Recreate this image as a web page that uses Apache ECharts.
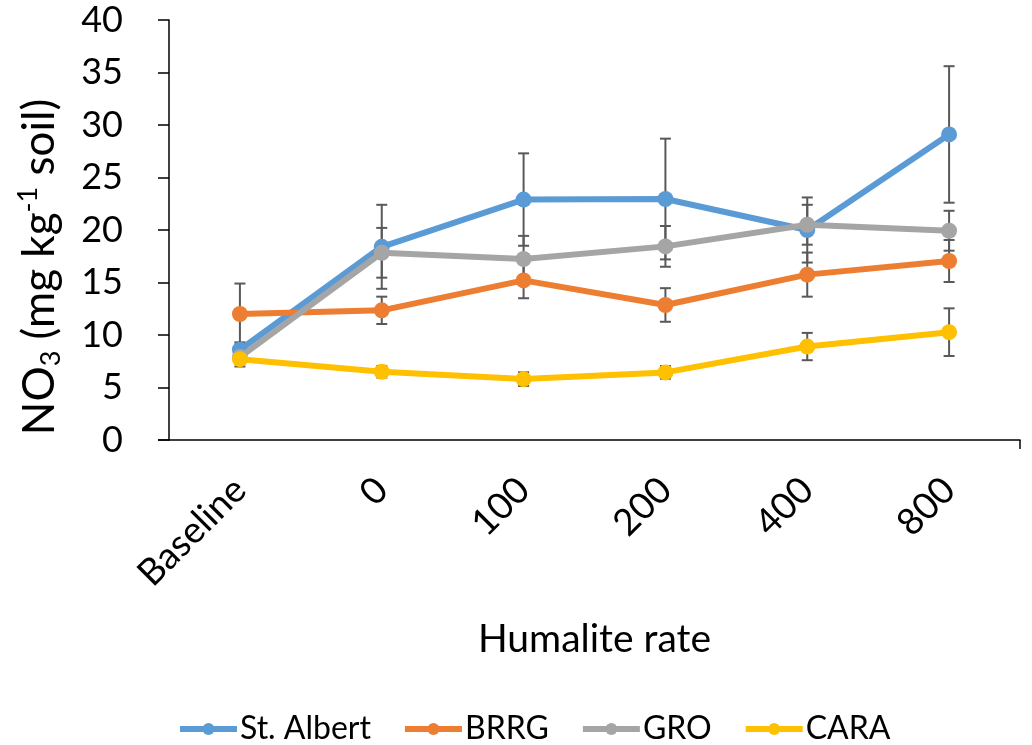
<!DOCTYPE html>
<html>
<head>
<meta charset="utf-8">
<script src="https://cdn.jsdelivr.net/npm/echarts@6/dist/echarts.min.js"></script>
<style>html,body{margin:0;padding:0;background:#fff;}#c{width:1032px;height:745px;}</style>
</head>
<body>
<div id="c"></div>
<script>
const categories = ['Baseline', '0', '100', '200', '400', '800'];
const seriesNames = ['St. Albert', 'BRRG', 'GRO', 'CARA'];
const stAlbert = [8.6, 18.4, 22.9, 22.95, 20.0, 29.1];
const stAlbertErr = [0.7, 4.0, 4.4, 5.75, 3.1, 6.5];
const brrg = [12.0, 12.35, 15.2, 12.86, 15.75, 17.05];
const brrgErr = [2.9, 1.3, 1.7, 1.6, 2.1, 2.0];
const gro = [7.9, 17.83, 17.24, 18.44, 20.5, 19.93];
const groErr = [0.6, 2.37, 2.2, 1.94, 1.9, 1.9];
const cara = [7.7, 6.5, 5.8, 6.44, 8.9, 10.27];
const caraErr = [0.7, 0.55, 0.65, 0.6, 1.3, 2.27];
const yTicks = [0, 5, 10, 15, 20, 25, 30, 35, 40];

const colors = ['#5B9BD5', '#ED7D31', '#A5A5A5', '#FFC000'];
const means = [stAlbert, brrg, gro, cara];
const errs = [stAlbertErr, brrgErr, groErr, caraErr];
const FONT = 'Lato';

const chart = echarts.init(document.getElementById('c'), null, {renderer: 'canvas'});

const series = [];
means.forEach((m, s) => {
  series.push({
    name: seriesNames[s] + ' err',
    type: 'custom',
    z: 1,
    silent: true,
    data: m.map((v, i) => [i, v, errs[s][i]]),
    renderItem: function (params, api) {
      const i = api.value(0), v = api.value(1), e = api.value(2);
      const top = api.coord([i, v + e]);
      const bot = api.coord([i, v - e]);
      const w = 5.5;
      const st = {stroke: '#595959', lineWidth: 2};
      return {
        type: 'group',
        children: [
          {type: 'line', shape: {x1: top[0], y1: top[1], x2: bot[0], y2: bot[1]}, style: st},
          {type: 'line', shape: {x1: top[0] - w, y1: top[1], x2: top[0] + w, y2: top[1]}, style: st},
          {type: 'line', shape: {x1: bot[0] - w, y1: bot[1], x2: bot[0] + w, y2: bot[1]}, style: st}
        ]
      };
    }
  });
});
means.forEach((m, s) => {
  series.push({
    name: seriesNames[s],
    type: 'line',
    z: 2 + s,
    data: m,
    symbol: 'circle',
    symbolSize: 16,
    lineStyle: {width: 6, color: colors[s]},
    itemStyle: {color: colors[s]}
  });
});

chart.setOption({
  animation: false,
  backgroundColor: '#fff',
  color: colors,
  grid: {left: 169, right: 12, top: 20, bottom: 305, containLabel: false},
  legend: {
    data: seriesNames,
    left: 172,
    top: 708,
    itemWidth: 57,
    itemHeight: 15,
    itemGap: 31,
    lineStyle: {width: 6},
    textStyle: {fontFamily: FONT, fontSize: 32, color: '#000', padding: [0, 0, 0, -2]}
  },
  xAxis: {
    type: 'category',
    data: categories,
    boundaryGap: true,
    name: 'Humalite rate',
    nameLocation: 'middle',
    nameGap: 180,
    nameTextStyle: {fontFamily: FONT, fontSize: 39, color: '#000'},
    axisLine: {lineStyle: {color: '#000', width: 1.5}},
    axisTick: {alignWithLabel: true, length: 9, lineStyle: {color: '#000', width: 1.5}},
    axisLabel: {rotate: 45, margin: 44, fontFamily: FONT, fontSize: 37, color: '#000'},
    splitLine: {show: false}
  },
  yAxis: {
    type: 'value',
    min: 0,
    max: 40,
    interval: 5,
    name: '{a|NO}{sub|3}{a| (mg kg}{sup|-1}{a| soil)}',
    nameLocation: 'middle',
    nameGap: 104,
    nameTextStyle: {
      fontFamily: FONT, fontSize: 44, color: '#000',
      padding: [0, 74, 0, 0],
      rich: {
        a: {fontFamily: FONT, fontSize: 44, color: '#000', lineHeight: 50},
        sub: {fontFamily: FONT, fontSize: 27, color: '#000', lineHeight: 24, verticalAlign: 'bottom'},
        sup: {fontFamily: FONT, fontSize: 27, color: '#000', lineHeight: 26, verticalAlign: 'top'}
      }
    },
    axisLine: {show: true, lineStyle: {color: '#000', width: 1.5}},
    axisTick: {show: true, length: 11, lineStyle: {color: '#000', width: 1.5}},
    axisLabel: {margin: 46, fontFamily: FONT, fontSize: 36, color: '#000',
      formatter: function (v) { return yTicks.indexOf(v) >= 0 ? String(v) : ''; }},
    splitLine: {show: false}
  },
  graphic: [
    {type: 'line', shape: {x1: 1020, y1: 440, x2: 1020, y2: 449}, style: {stroke: '#000', lineWidth: 1.5}},
    {type: 'line', shape: {x1: 158, y1: 440, x2: 169, y2: 440}, style: {stroke: '#000', lineWidth: 1.5}}
  ],
  series: series
});
</script>
</body>
</html>
